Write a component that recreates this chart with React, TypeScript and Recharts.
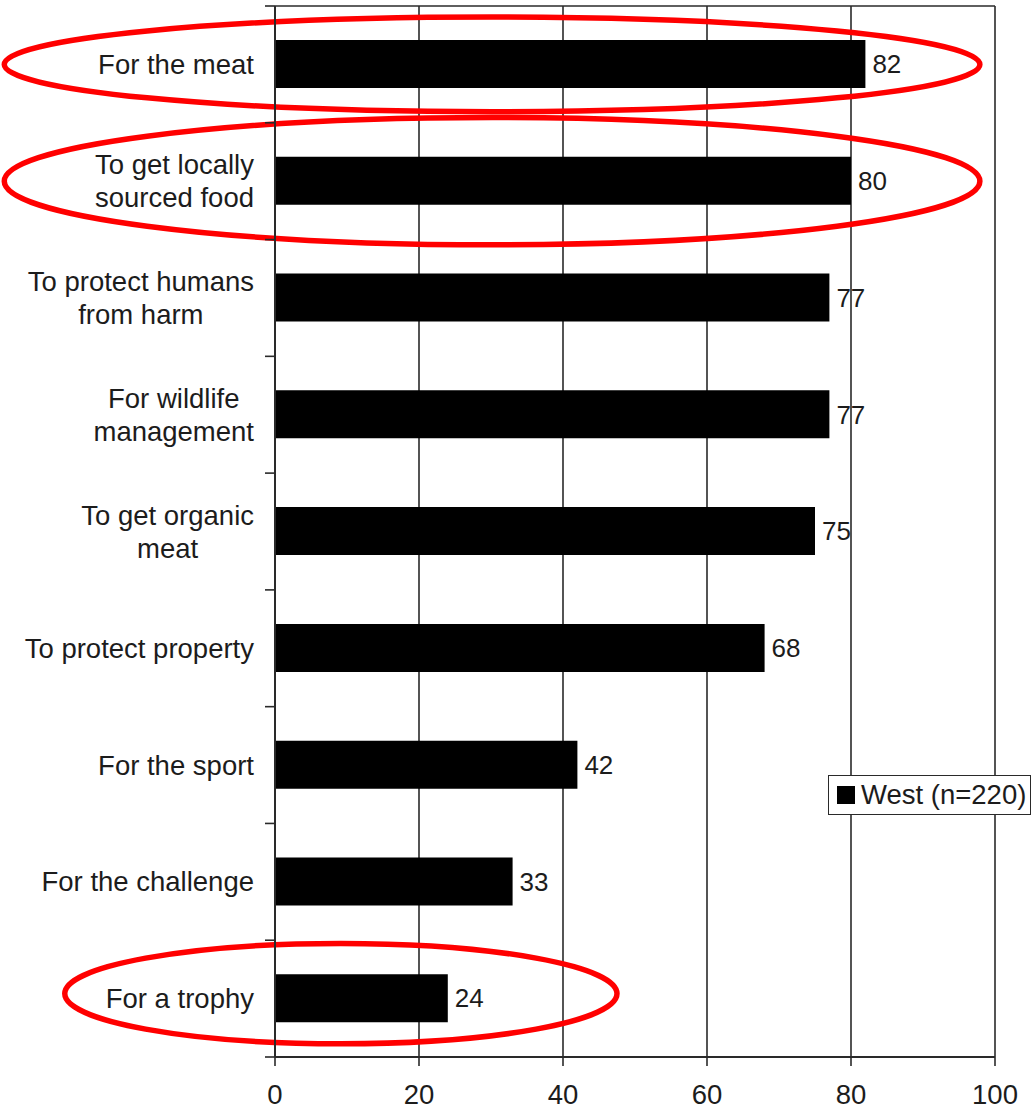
import React from 'react';
import { BarChart, Bar, XAxis, YAxis, CartesianGrid, LabelList, Legend, ReferenceArea } from 'recharts';

const categories = [
  'For the meat',
  'To get locally\nsourced food',
  'To protect humans\nfrom harm',
  'For wildlife\nmanagement',
  'To get organic\nmeat',
  'To protect property',
  'For the sport',
  'For the challenge',
  'For a trophy',
];
const westValues = [82, 80, 77, 77, 75, 68, 42, 33, 24];
const xTicks = [0, 20, 40, 60, 80, 100];
const seriesName = 'West (n=220)';

// highlighted categories (red ellipses) with their horizontal extent in axis units
const highlightCategories = [categories[0], categories[1], categories[8]];
const highlightFrom = [-37.6, -37.6, -29.2];
const highlightTo = [97.9, 97.9, 47.5];

const data = categories.map((c, i) => ({ category: c, west: westValues[i] }));

const FONT_FAMILY = '"Liberation Sans", Arial, Helvetica, sans-serif';
const TEXT = '#1c1c1c';
const LINE = '#2a2a2a';
const W = 1036;
const H = 1110;
const MARGIN = { top: 4, right: 41, bottom: 0, left: 0 };
const TOP_H = 2;
const Y_W = 275;
const X_H = 53;
const LABEL_SIZE = 27.5;
const LINE_H = 33;

// annotation styles (height factor relative to band, vertical shift)
const ellipseStyle = [
  { hf: 0.81, dy: 0 },
  { hf: 1.09, dy: 0 },
  { hf: 0.86, dy: -5 },
];

let ctx: CanvasRenderingContext2D | null = null;
function textWidth(s: string): number {
  if (!ctx) ctx = document.createElement('canvas').getContext('2d');
  if (!ctx) return s.length * 13;
  ctx.font = `${LABEL_SIZE}px ${FONT_FAMILY}`;
  return ctx.measureText(s).width;
}

const plotH = H - MARGIN.top - TOP_H - MARGIN.bottom - X_H;

const YTick = (props: any) => {
  const { x, y, payload, index } = props;
  const half = payload && typeof payload.offset === 'number' && payload.offset > 0 ? payload.offset : plotH / categories.length / 2;
  const lines = String(payload.value).split('\n');
  const maxW = Math.max(...lines.map((l) => textWidth(l)));
  const cx = x - 21 - maxW / 2;
  const start = -((lines.length - 1) / 2) * LINE_H + 9.5;
  return (
    <g>
      <line x1={x - 10} x2={x} y1={y - half} y2={y - half} stroke={LINE} strokeWidth={1.6} />
      {index === categories.length - 1 && (
        <line x1={x - 10} x2={x} y1={y + half} y2={y + half} stroke={LINE} strokeWidth={1.6} />
      )}
      <text x={cx} y={y} textAnchor="middle" fill={TEXT} fontSize={LABEL_SIZE} fontFamily={FONT_FAMILY}>
        {lines.map((l, i) => (
          <tspan key={i} x={cx} dy={i === 0 ? start : LINE_H}>
            {l}
          </tspan>
        ))}
      </text>
    </g>
  );
};

const makeEllipse = (i: number) => (p: any) => {
  const { x, y, width, height } = p;
  const st = ellipseStyle[i];
  return (
    <ellipse
      cx={x + width / 2}
      cy={y + height / 2 + st.dy}
      rx={width / 2}
      ry={(height * st.hf) / 2}
      fill="none"
      stroke="#ff0000"
      strokeWidth={5.5}
    />
  );
};

const LegendBox = (props: any) => {
  const payload = props.payload || [];
  return (
    <div
      style={{
        display: 'flex',
        alignItems: 'center',
        border: `1.5px solid ${LINE}`,
        background: '#fff',
        height: 40,
        boxSizing: 'border-box',
        padding: '0 4px 0 8px',
        fontFamily: FONT_FAMILY,
        fontSize: 27.5,
        color: TEXT,
        whiteSpace: 'nowrap',
      }}
    >
      {payload.map((p: any, i: number) => (
        <React.Fragment key={i}>
          <span style={{ display: 'inline-block', width: 18, height: 18, background: '#000', marginRight: 6 }} />
          <span>{p.value}</span>
        </React.Fragment>
      ))}
    </div>
  );
};

export default function App() {
  return (
    <div style={{ position: 'absolute', top: 0, left: 0, width: W, height: H, background: '#fff', overflow: 'visible' }}>
      <BarChart width={W} height={H} data={data} layout="vertical" margin={MARGIN} barSize={48} style={{ overflow: 'visible' }}>
        <CartesianGrid vertical horizontal={false} stroke={LINE} strokeWidth={1.6} />
        <XAxis
          type="number"
          domain={[0, 100]}
          ticks={xTicks}
          height={X_H}
          tickSize={9}
          tickMargin={18}
          axisLine={{ stroke: LINE, strokeWidth: 2 }}
          tickLine={{ stroke: LINE, strokeWidth: 1.6 }}
          tick={{ fill: TEXT, fontSize: 27.5, fontFamily: FONT_FAMILY }}
        />
        <XAxis
          xAxisId="top"
          orientation="top"
          type="number"
          domain={[0, 100]}
          ticks={xTicks}
          height={TOP_H}
          tickSize={0}
          tick={false}
          tickLine={false}
          axisLine={{ stroke: LINE, strokeWidth: 1.6 }}
        />
        <YAxis
          type="category"
          dataKey="category"
          width={Y_W}
          tickLine={false}
          tickSize={0}
          tickMargin={0}
          axisLine={{ stroke: LINE, strokeWidth: 2 }}
          tick={<YTick />}
          interval={0}
        />
        <Bar dataKey="west" name={seriesName} fill="#000" isAnimationActive={false}>
          <LabelList
            dataKey="west"
            position="right"
            offset={7}
            fill={TEXT}
            fontSize={26}
            fontFamily={FONT_FAMILY}
          />
        </Bar>
        {highlightCategories.map((c, i) => (
          <ReferenceArea
            key={i}
            y1={c}
            y2={c}
            x1={highlightFrom[i]}
            x2={highlightTo[i]}
            ifOverflow="visible"
            shape={makeEllipse(i)}
          />
        ))}
        <Legend
          layout="horizontal"
          verticalAlign="middle"
          align="center"
          content={<LegendBox />}
          wrapperStyle={{ left: 828, top: 775, width: 'auto', height: 'auto' }}
        />
      </BarChart>
    </div>
  );
}
